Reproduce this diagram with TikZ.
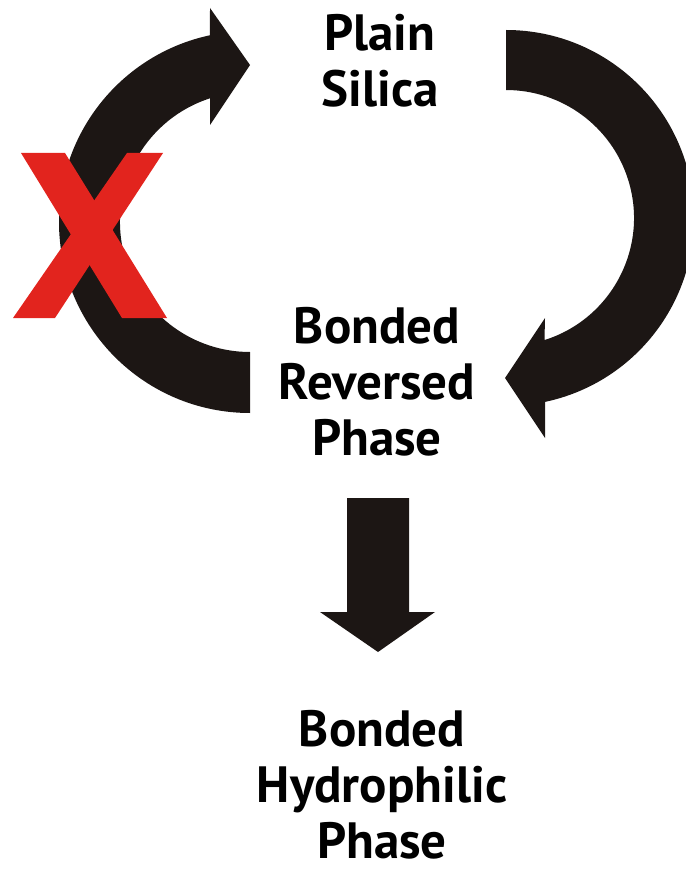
\documentclass[tikz,border=0pt]{standalone}
\usepackage{fontspec}
\setmainfont{PT Sans}
\usepackage{tikz}
\usepackage{xcolor}
\definecolor{arcblack}{RGB}{28,22,20}
\definecolor{crossred}{RGB}{226,36,30}
\tikzset{
	phase/.style={align=center,anchor=base,font=\fontsize{25.5}{28}\selectfont\bfseries,inner sep=0pt},
	blkarrow/.style={fill=arcblack,draw=none}
}

\begin{document}
\begin{tikzpicture}[x=0.5pt,y=0.5pt]
			\useasboundingbox (0,0) rectangle (685,-871);

			\node[phase] (silica) at (380,-107) {Plain\\Silica};
			\node[phase] (reversed) at (377,-455) {Bonded\\Reversed\\Phase};
			\node[phase] (hydrophilic) at (382,-858) {Bonded\\Hydrophilic\\Phase};

			\begin{scope}[shift={(250,-222)}]
				\fill[blkarrow] (270:191) arc[start angle=270, end angle=102.1, radius=191]
					-- (-40,214) -- (0,157) -- (-40,97)
					-- (107.9:130) arc[start angle=107.9, end angle=270, radius=130] -- cycle;
			\end{scope}

			\begin{scope}[shift={(506,-218)}]
				\fill[blkarrow] (90:188) arc[start angle=90, end angle=-78, radius=188]
					-- (39,-220) -- (-1,-160) -- (39,-100)
					-- (-72.5:128) arc[start angle=-72.5, end angle=90, radius=128] -- cycle;
			\end{scope}

			\fill[blkarrow] (347,-498) -- (409,-498) -- (409,-612) -- (435,-612)
				-- (378,-652) -- (320,-612) -- (347,-612) -- cycle;

			\fill[crossred] (21,-153) -- (65,-153) -- (167,-318) -- (122,-318) -- cycle;
			\fill[crossred] (127,-153) -- (163,-153) -- (55,-318) -- (13,-318) -- cycle;
		\end{tikzpicture}
\end{document}
